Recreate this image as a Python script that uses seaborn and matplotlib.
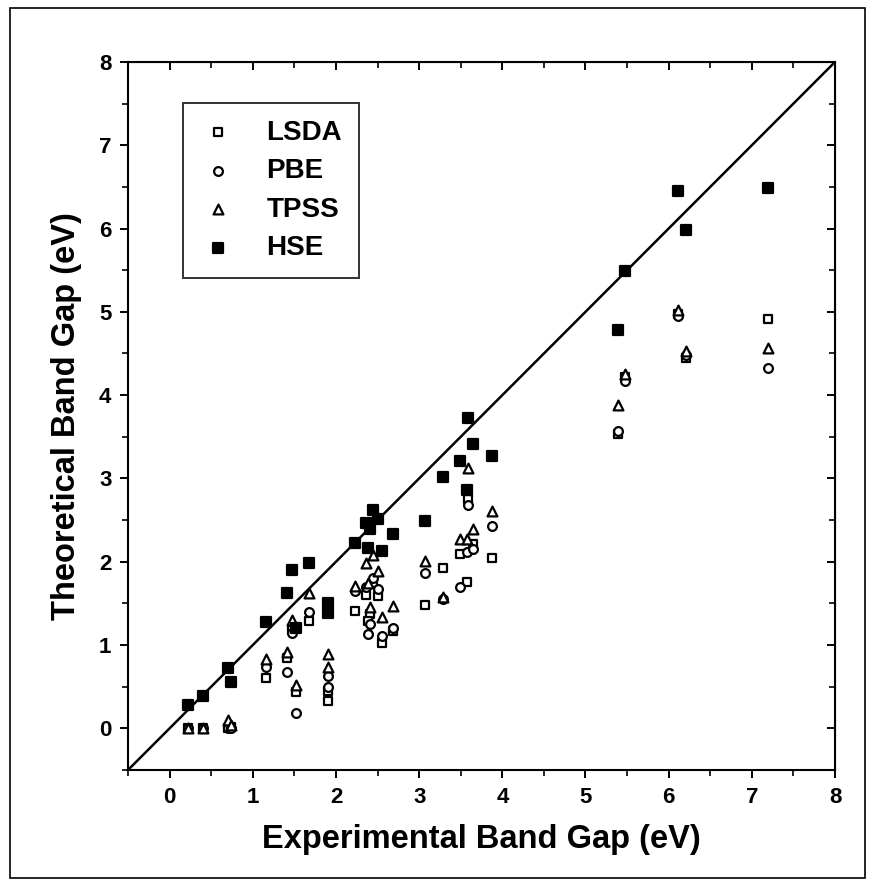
import matplotlib
matplotlib.use("Agg")
import matplotlib.pyplot as plt
import matplotlib.patches as patches
import seaborn as sns
import pandas as pd

# experimental band gaps (eV) and the four functionals
exp_gap = [0.22, 0.40, 0.70, 0.74, 1.16, 1.41, 1.47, 1.52, 1.68, 1.91, 1.90,
           2.23, 2.36, 2.45, 2.50, 2.41, 2.38, 2.55, 2.69, 3.07, 3.29, 3.49,
           3.59, 3.57, 3.65, 3.87, 5.39, 5.47, 6.11, 6.21, 7.20]
lsda = [0.00, 0.00, 0.00, 0.02, 0.60, 0.85, 1.18, 0.43, 1.29, 0.45, 0.33,
        1.41, 1.60, 1.75, 1.59, 1.37, 1.29, 1.03, 1.17, 1.48, 1.92, 2.09,
        2.75, 1.76, 2.21, 2.04, 3.53, 4.22, 4.97, 4.45, 4.91]
pbe = [0.00, 0.00, 0.00, 0.00, 0.73, 0.67, 1.14, 0.18, 1.40, 0.63, 0.49,
       1.65, 1.70, 1.81, 1.67, 1.25, 1.13, 1.11, 1.21, 1.87, 1.55, 1.70,
       2.68, 2.12, 2.15, 2.43, 3.57, 4.17, 4.95, 4.48, 4.33]
tpss = [0.00, 0.00, 0.10, 0.04, 0.83, 0.92, 1.30, 0.52, 1.63, 0.89, 0.73,
        1.71, 1.99, 2.08, 1.89, 1.46, 1.75, 1.34, 1.47, 2.01, 1.58, 2.27,
        3.12, 2.27, 2.39, 2.61, 3.88, 4.25, 5.02, 4.53, 4.56]
hse = [0.28, 0.39, 0.72, 0.55, 1.28, 1.63, 1.90, 1.20, 1.98, 1.51, 1.39,
       2.23, 2.47, 2.62, 2.51, 2.39, 2.17, 2.13, 2.33, 2.49, 3.02, 3.21,
       3.73, 2.86, 3.41, 3.27, 4.78, 5.49, 6.45, 5.98, 6.49]

series = {"LSDA": lsda, "PBE": pbe, "TPSS": tpss, "HSE": hse}
df = pd.concat([pd.DataFrame({"exp": exp_gap, "theo": v, "method": k})
                for k, v in series.items()], ignore_index=True)

sns.set_style("white")
plt.rcParams['font.family'] = ['Liberation Sans', 'DejaVu Sans']
plt.rcParams['font.weight'] = 'bold'
plt.rcParams['text.color'] = 'black'
plt.rcParams['axes.labelcolor'] = 'black'
plt.rcParams['xtick.color'] = 'black'
plt.rcParams['ytick.color'] = 'black'

fig = plt.figure(figsize=(8.74, 8.85), dpi=100)
ax = fig.add_axes([0.1465, 0.130, 0.8089, 0.800])

# y = x reference line
ax.plot([-0.5, 8], [-0.5, 8], color='black', lw=1.8, zorder=1)

styles = {
    "LSDA": dict(marker='s', s=34, facecolor='white'),
    "PBE": dict(marker='o', s=40, facecolor='white'),
    "TPSS": dict(marker='^', s=50, facecolor='white'),
    "HSE": dict(marker='s', s=52, facecolor='black'),
}
for name, st in styles.items():
    sub = df[df["method"] == name]
    sns.scatterplot(data=sub, x="exp", y="theo", ax=ax, label=name,
                    marker=st["marker"], s=st["s"], facecolor=st["facecolor"],
                    edgecolor='black', linewidth=1.6, zorder=3)

ax.set_xlim(-0.5, 8)
ax.set_ylim(-0.5, 8)
ax.set_xticks(range(0, 9))
ax.set_yticks(range(0, 9))
ax.set_xticks([i + 0.5 for i in range(-1, 8)], minor=True)
ax.set_yticks([i + 0.5 for i in range(-1, 8)], minor=True)
ax.tick_params(which='major', direction='out', length=6, width=1.4,
               labelsize=16, bottom=True, left=True, pad=6, colors='black')
ax.tick_params(which='minor', direction='out', length=4, width=1.2,
               bottom=True, left=True, colors='black')
for lab in ax.get_xticklabels() + ax.get_yticklabels():
    lab.set_fontweight('bold')

# inward ticks on top and right
top = ax.secondary_xaxis('top')
top.set_xticks(range(0, 9))
top.set_xticks([i + 0.5 for i in range(-1, 8)], minor=True)
top.tick_params(which='major', direction='in', length=6, width=1.4, labeltop=False)
top.tick_params(which='minor', direction='in', length=4, width=1.2)
right = ax.secondary_yaxis('right')
right.set_yticks(range(0, 9))
right.set_yticks([i + 0.5 for i in range(-1, 8)], minor=True)
right.tick_params(which='major', direction='in', length=6, width=1.4, labelright=False)
right.tick_params(which='minor', direction='in', length=4, width=1.2)

for sp in ax.spines.values():
    sp.set_linewidth(1.5)
    sp.set_color('black')

ax.set_xlabel("Experimental Band Gap (eV)", fontsize=23.5, fontweight='bold',
              labelpad=12, color='black')
ax.set_ylabel("Theoretical Band Gap (eV)", fontsize=23.5, fontweight='bold',
              labelpad=12, color='black')

leg = ax.legend(loc='upper left', bbox_to_anchor=(0.078, 0.942), frameon=True,
                fancybox=False, edgecolor='black', fontsize=20, handletextpad=1.1,
                labelspacing=0.45, borderpad=0.6, handlelength=1.3,
                borderaxespad=0)
leg.get_frame().set_linewidth(1.4)
for t in leg.get_texts():
    t.set_fontweight('bold')
    t.set_color('black')

# outer border of the figure
fig.patches.append(patches.Rectangle((0.012, 0.008), 0.978, 0.983,
                                     transform=fig.transFigure, fill=False,
                                     edgecolor='black', lw=1.2))

fig.savefig("out.png", dpi=100)
